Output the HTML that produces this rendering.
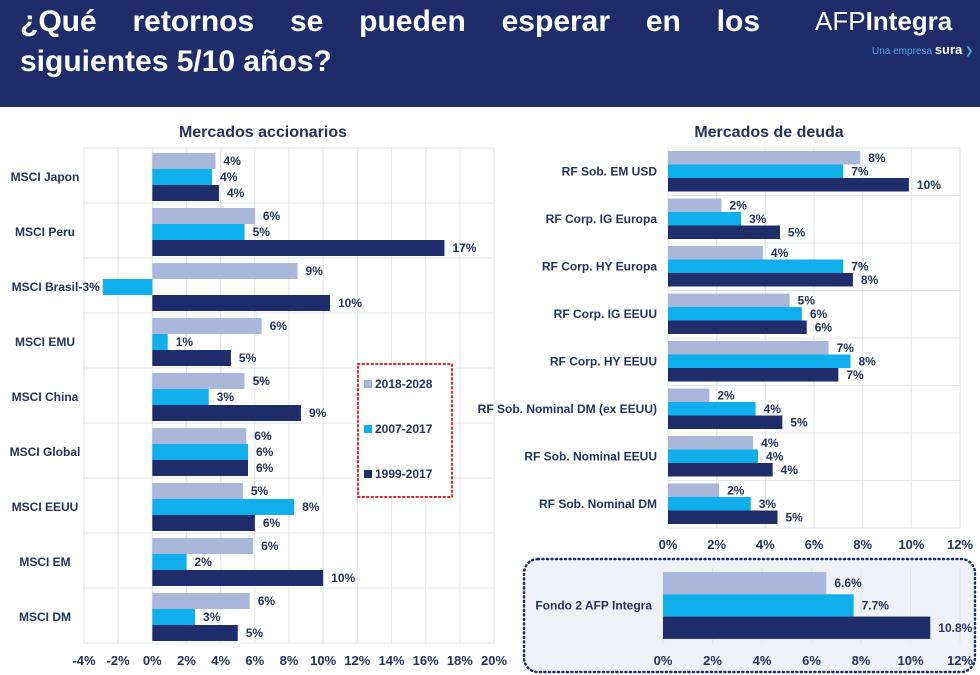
<!DOCTYPE html>
<html><head><meta charset="utf-8">
<style>
body{margin:0;width:980px;height:675px;overflow:hidden;background:#fff;font-family:"Liberation Sans",sans-serif;}
#hdr{position:absolute;left:0;top:0;width:980px;height:107px;background:#1f2c6a;}
#title{position:absolute;left:20px;top:2px;color:#fff;font-size:30px;font-weight:bold;line-height:40px;width:740px;}
#title .l1{display:block;text-align:justify;text-align-last:justify;}
#logo{position:absolute;left:815px;top:6px;color:#fff;font-size:26px;}
#logo b{font-weight:bold;}
#sub{position:absolute;left:872px;top:42px;color:#4aa8e0;font-size:10px;}
#sub span{color:#fff;font-size:13px;font-weight:bold;}
svg{position:absolute;left:0;top:0;}
</style></head><body>
<div id="hdr">
<div id="title"><span class="l1">¿Qué retornos se pueden esperar en los</span>siguientes 5/10 años?</div>
<div id="logo">AFP<b>Integra</b></div>
<div id="sub">Una empresa <span>sura</span> ❯</div>
</div>
<svg id="chart" width="980" height="675"></svg>
<script>
const eqCats=["MSCI Japon","MSCI Peru","MSCI Brasil","MSCI EMU","MSCI China","MSCI Global","MSCI EEUU","MSCI EM","MSCI DM"];
const eqA=[3.7,6.0,8.5,6.4,5.4,5.5,5.3,5.9,5.7];
const eqB=[3.5,5.4,-2.9,0.9,3.3,5.6,8.3,2.0,2.5];
const eqC=[3.9,17.1,10.4,4.6,8.7,5.6,6.0,10.0,5.0];
const eqLA=["4%","6%","9%","6%","5%","6%","5%","6%","6%"];
const eqLB=["4%","5%","-3%","1%","3%","6%","8%","2%","3%"];
const eqLC=["4%","17%","10%","5%","9%","6%","6%","10%","5%"];
const eqTicks=[-4,-2,0,2,4,6,8,10,12,14,16,18,20];
const dCats=["RF Sob. EM USD","RF Corp. IG Europa","RF Corp. HY Europa","RF Corp. IG EEUU","RF Corp. HY EEUU","RF Sob. Nominal DM (ex EEUU)","RF Sob. Nominal EEUU","RF Sob. Nominal DM"];
const dA=[7.9,2.2,3.9,5.0,6.6,1.7,3.5,2.1];
const dB=[7.2,3.0,7.2,5.5,7.5,3.6,3.7,3.4];
const dC=[9.9,4.6,7.6,5.7,7.0,4.7,4.3,4.5];
const dLA=["8%","2%","4%","5%","7%","2%","4%","2%"];
const dLB=["7%","3%","7%","6%","8%","4%","4%","3%"];
const dLC=["10%","5%","8%","6%","7%","5%","4%","5%"];
const dTicks=[0,2,4,6,8,10,12];
const fCats=["Fondo 2 AFP Integra"];
const fVals=[6.6,7.7,10.8];
const fLabels=["6.6%","7.7%","10.8%"];
const series=["2018-2028","2007-2017","1999-2017"];
const COLS=["#a9b8da","#10aeea","#1f2d6b"];
const TXT="#26325e";
const svg=document.getElementById('chart');
const NS="http://www.w3.org/2000/svg";
function mk(tag,attrs,txt){const e=document.createElementNS(NS,tag);for(const k in attrs)e.setAttribute(k,attrs[k]);if(txt!==undefined)e.textContent=txt;svg.appendChild(e);return e;}

function drawChart(o){
  const x=v=>o.x0+(v-o.min)*(o.x1-o.x0)/(o.max-o.min);
  const n=o.cats.length, pitch=(o.y1-o.y0)/n;
  o.ticks.forEach(t=>{
    const l=mk('line',{x1:x(t),x2:x(t),y1:o.y0,y2:o.y1,stroke:'#e3e5ea','stroke-width':1});
    
    const tl=mk('text',{x:x(t),y:o.tickY,'text-anchor':'middle','font-size':13,'font-weight':'bold',fill:TXT},t+'%');
    
  });
  for(let i=0;i<=n;i++){if(o.hgrid){const l=mk('line',{x1:o.x0,x2:o.x1,y1:o.y0+i*pitch,y2:o.y0+i*pitch,stroke:'#e3e5ea'});}}
  o.cats.forEach((c,i)=>{
    const top=o.y0+i*pitch+o.pad;
    const cl=mk('text',{x:o.catX,y:top+o.bh*1.5+4,'text-anchor':o.catAnchor,'font-size':12,'font-weight':'bold',fill:TXT},c);
    
    o.vals.forEach((arr,s)=>{
      const v=arr[i],bx=Math.min(x(0),x(v)),w=Math.abs(x(v)-x(0)),by=top+s*o.bh;
      const r=mk('rect',{x:bx,y:by,width:w,height:o.bh,fill:COLS[s]});
      
      const lx=v<0?x(v)-3:x(v)+o.lblOff, la=v<0?'end':'start';
      const t=mk('text',{x:lx,y:by+o.bh/2+4,'text-anchor':la,'font-size':o.lblSize,'font-weight':'bold',fill:TXT},o.labels[s][i]);
      
    });
  });
}
let t1=mk('text',{x:263,y:137,'text-anchor':'middle','font-size':16,'font-weight':'bold',fill:TXT},'Mercados accionarios');

let t2=mk('text',{x:769,y:137,'text-anchor':'middle','font-size':16,'font-weight':'bold',fill:TXT},'Mercados de deuda');


drawChart({name:'equity',cats:eqCats,vals:[eqA,eqB,eqC],labels:[eqLA,eqLB,eqLC],ticks:eqTicks,min:-4,max:20,x0:84,x1:494,y0:148,y1:643,pad:5,bh:16,catX:45,catAnchor:'middle',tickY:665,lblOff:8,lblSize:12,hgrid:true});
drawChart({name:'debt',cats:dCats,vals:[dA,dB,dC],labels:[dLA,dLB,dLC],ticks:dTicks,min:0,max:12,x0:668,x1:960,y0:148,y1:528,pad:3,bh:13.5,catX:657,catAnchor:'end',tickY:549,lblOff:8,lblSize:12,hgrid:true});
let box=mk('rect',{x:524,y:559,width:451,height:113,rx:14,fill:'#eef1f8',stroke:'#1f2d6b','stroke-width':2.5,'stroke-dasharray':'1 3.5','stroke-linecap':'round'});

drawChart({name:'fondo',cats:fCats,vals:[[fVals[0]],[fVals[1]],[fVals[2]]],labels:[[fLabels[0]],[fLabels[1]],[fLabels[2]]],ticks:dTicks,min:0,max:12,x0:663,x1:960,y0:568,y1:643,pad:4,bh:22.3,catX:652,catAnchor:'end',tickY:665,lblOff:8,lblSize:12,hgrid:false});
let lg=mk('rect',{x:358,y:364,width:94,height:133,fill:'#fff',stroke:'#d9252b','stroke-width':2,'stroke-dasharray':'1.5 3','stroke-linecap':'round'});

series.forEach((s,i)=>{
  const y=385+i*45;
  const sq=mk('rect',{x:364,y:y-5,width:8,height:8,fill:COLS[i]});
  
  const tx=mk('text',{x:375,y:y+3,'font-size':12,'font-weight':'bold',fill:TXT},s);
  
});
</script>
</body></html>
